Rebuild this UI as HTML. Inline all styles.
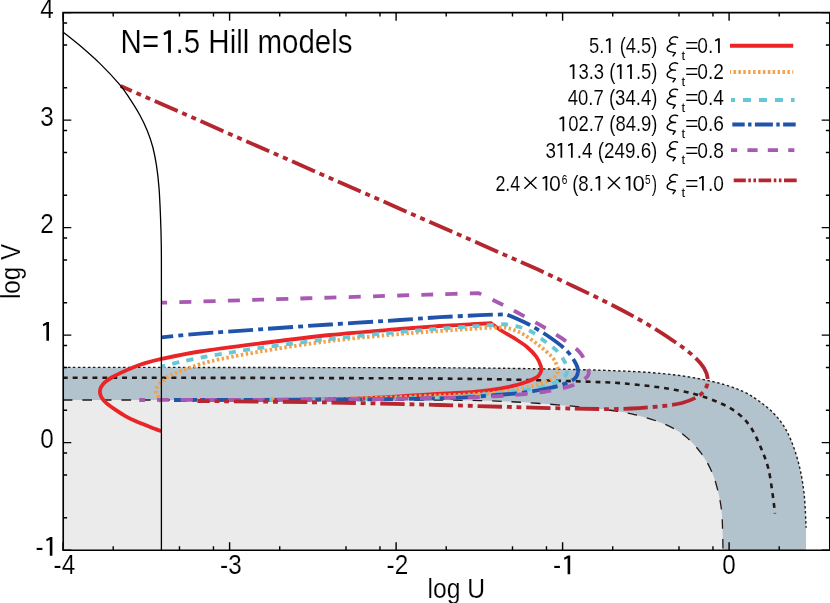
<!DOCTYPE html>
<html><head><meta charset="utf-8"><title>N=1.5 Hill models</title>
<style>html,body{margin:0;padding:0;background:#fff;width:830px;height:603px;overflow:hidden}body{position:relative;font-family:"Liberation Sans",sans-serif}</style></head>
<body>
<svg width="830" height="603" viewBox="0 0 830 603" style="position:absolute;left:0;top:0;font-family:'Liberation Sans',sans-serif;will-change:transform;transform:translateZ(0)">
<rect width="830" height="603" fill="#fff"/>
<path d="M63.00 367.40 C79.33 367.40 121.50 367.37 161.00 367.40 C200.50 367.43 253.50 367.53 300.00 367.60 C346.50 367.67 403.33 367.65 440.00 367.80 C476.67 367.95 493.33 368.10 520.00 368.50 C546.67 368.90 576.17 369.35 600.00 370.20 C623.83 371.05 644.67 371.80 663.00 373.60 C681.33 375.40 696.77 378.07 710.00 381.00 C723.23 383.93 733.23 387.10 742.40 391.20 C751.57 395.30 758.63 400.57 765.00 405.60 C771.37 410.63 776.27 415.62 780.60 421.40 C784.93 427.18 787.88 432.87 791.00 440.30 C794.12 447.73 797.10 456.93 799.30 466.00 C801.50 475.07 803.07 484.40 804.20 494.70 C805.33 505.00 805.78 522.28 806.10 527.80 L806 550.25 L63 550.25 Z" fill="#b3c3ce"/>
<path d="M63.00 400.00 C79.33 400.00 121.50 400.00 161.00 400.00 C200.50 400.00 260.17 400.00 300.00 400.00 C339.83 400.00 370.00 399.90 400.00 400.00 C430.00 400.10 456.67 400.02 480.00 400.60 C503.33 401.18 520.00 402.10 540.00 403.50 C560.00 404.90 584.75 407.27 600.00 409.00 C615.25 410.73 621.00 411.50 631.50 413.90 C642.00 416.30 654.08 419.72 663.00 423.40 C671.92 427.08 678.58 430.95 685.00 436.00 C691.42 441.05 696.95 447.53 701.50 453.70 C706.05 459.87 709.42 466.17 712.30 473.00 C715.18 479.83 717.18 487.53 718.80 494.70 C720.42 501.87 721.30 506.74 722.00 516.00 C722.70 525.26 722.83 544.54 723.00 550.25 L63 550.25 Z" fill="#ebebeb"/>
<path d="M63.00 367.40 C79.33 367.40 121.50 367.37 161.00 367.40 C200.50 367.43 253.50 367.53 300.00 367.60 C346.50 367.67 403.33 367.65 440.00 367.80 C476.67 367.95 493.33 368.10 520.00 368.50 C546.67 368.90 576.17 369.35 600.00 370.20 C623.83 371.05 644.67 371.80 663.00 373.60 C681.33 375.40 696.77 378.07 710.00 381.00 C723.23 383.93 733.23 387.10 742.40 391.20 C751.57 395.30 758.63 400.57 765.00 405.60 C771.37 410.63 776.27 415.62 780.60 421.40 C784.93 427.18 787.88 432.87 791.00 440.30 C794.12 447.73 797.10 456.93 799.30 466.00 C801.50 475.07 803.07 484.40 804.20 494.70 C805.33 505.00 805.78 522.28 806.10 527.80" fill="none" stroke="#231815" stroke-width="1.4" stroke-dasharray="2.5 2.5" stroke-dashoffset="0.00"/>
<path d="M63.00 377.80 C79.33 377.80 121.50 377.77 161.00 377.80 C200.50 377.83 253.50 377.87 300.00 378.00 C346.50 378.13 403.33 378.30 440.00 378.60 C476.67 378.90 493.33 379.22 520.00 379.80 C546.67 380.38 581.42 381.37 600.00 382.10 C618.58 382.83 621.00 383.23 631.50 384.20 C642.00 385.17 652.50 386.27 663.00 387.90 C673.50 389.53 685.05 391.50 694.50 394.00 C703.95 396.50 712.35 399.58 719.70 402.90 C727.05 406.22 733.35 409.72 738.60 413.90 C743.85 418.08 747.47 422.32 751.20 428.00 C754.93 433.68 758.13 441.20 761.00 448.00 C763.87 454.80 766.45 461.02 768.40 468.80 C770.35 476.58 771.60 487.25 772.70 494.70 C773.80 502.15 774.62 510.37 775.00 513.50" fill="none" stroke="#231815" stroke-width="2.6" stroke-dasharray="4.930 4.930" stroke-dashoffset="0.00"/>
<path d="M63.00 400.00 C79.33 400.00 121.50 400.00 161.00 400.00 C200.50 400.00 260.17 400.00 300.00 400.00 C339.83 400.00 370.00 399.90 400.00 400.00 C430.00 400.10 456.67 400.02 480.00 400.60 C503.33 401.18 520.00 402.10 540.00 403.50 C560.00 404.90 584.75 407.27 600.00 409.00 C615.25 410.73 621.00 411.50 631.50 413.90 C642.00 416.30 654.08 419.72 663.00 423.40 C671.92 427.08 678.58 430.95 685.00 436.00 C691.42 441.05 696.95 447.53 701.50 453.70 C706.05 459.87 709.42 466.17 712.30 473.00 C715.18 479.83 717.18 487.53 718.80 494.70 C720.42 501.87 721.30 506.74 722.00 516.00 C722.70 525.26 722.83 544.54 723.00 550.25" fill="none" stroke="#231815" stroke-width="1.3" stroke-dasharray="9.6 9.9" stroke-dashoffset="0.00"/>
<path d="M161.50 431.30 C160.37 430.88 157.48 429.88 154.70 428.80 C151.92 427.72 148.12 426.13 144.80 424.80 C141.48 423.47 138.12 422.30 134.80 420.80 C131.48 419.30 128.15 417.67 124.90 415.80 C121.65 413.93 117.88 411.32 115.30 409.60 C112.72 407.88 111.08 406.77 109.40 405.50 C107.72 404.23 106.39 403.17 105.20 402.00 C104.01 400.83 103.03 399.67 102.25 398.50 C101.47 397.33 100.89 396.17 100.50 395.00 C100.11 393.83 99.88 392.67 99.90 391.50 C99.92 390.33 100.15 389.17 100.64 388.00 C101.13 386.83 101.86 385.67 102.84 384.50 C103.82 383.33 105.02 382.17 106.50 381.00 C107.98 379.83 109.42 378.82 111.70 377.50 C113.98 376.18 116.77 374.73 120.20 373.10 C123.63 371.47 128.28 369.32 132.30 367.70 C136.32 366.08 139.43 364.87 144.30 363.40 C149.17 361.93 152.22 360.88 161.50 358.90 C170.78 356.92 183.58 354.08 200.00 351.50 C216.42 348.92 238.33 346.15 260.00 343.40 C281.67 340.65 306.67 337.40 330.00 335.00 C353.33 332.60 381.67 330.50 400.00 329.00 C418.33 327.50 428.33 326.78 440.00 326.00 C451.67 325.22 461.50 324.75 470.00 324.30 C478.50 323.85 487.50 323.47 491.00 323.30 C492.83 324.58 498.07 328.48 502.00 331.00 C505.93 333.52 510.43 335.73 514.60 338.40 C518.77 341.07 523.35 343.90 527.00 347.00 C530.65 350.10 534.20 353.83 536.50 357.00 C538.80 360.17 540.02 363.75 540.80 366.00 C541.58 368.25 541.42 369.08 541.20 370.50 C540.98 371.92 540.28 373.33 539.50 374.50 C538.72 375.67 538.70 376.25 536.50 377.50 C534.30 378.75 530.38 380.55 526.30 382.00 C522.22 383.45 517.82 384.87 512.00 386.20 C506.18 387.53 498.23 389.00 491.40 390.00 C484.57 391.00 481.23 391.48 471.00 392.20 C460.77 392.92 441.83 393.60 430.00 394.30 C418.17 395.00 410.00 395.78 400.00 396.40 C390.00 397.02 381.67 397.53 370.00 398.00 C358.33 398.47 348.33 398.90 330.00 399.20 C311.67 399.50 281.67 399.67 260.00 399.80 C238.33 399.93 210.00 399.97 200.00 400.00" fill="none" stroke="#eb2426" stroke-width="3.8"/>
<path d="M161.00 402.00 C160.62 401.22 159.48 398.77 158.70 397.30 C157.92 395.83 156.65 394.72 156.30 393.20 C155.95 391.68 156.13 389.72 156.60 388.20 C157.07 386.68 157.98 385.35 159.10 384.10 C160.22 382.85 161.98 381.82 163.30 380.70 C164.62 379.58 165.77 378.37 167.00 377.40 C168.23 376.43 169.38 375.58 170.70 374.90 C172.02 374.22 173.37 373.92 174.90 373.30 C176.43 372.68 178.25 371.83 179.90 371.20 C181.55 370.57 179.78 371.12 184.80 369.50 C189.82 367.88 197.47 364.48 210.00 361.50 C222.53 358.52 240.00 355.02 260.00 351.60 C280.00 348.18 306.67 343.93 330.00 341.00 C353.33 338.07 381.67 335.67 400.00 334.00 C418.33 332.33 428.33 331.83 440.00 331.00 C451.67 330.17 461.33 329.55 470.00 329.00 C478.67 328.45 486.17 327.95 492.00 327.70 C497.83 327.45 502.83 327.53 505.00 327.50 C506.50 327.92 510.73 328.75 514.00 330.00 C517.27 331.25 520.35 332.37 524.60 335.00 C528.85 337.63 534.93 342.13 539.50 345.80 C544.07 349.47 549.08 353.68 552.00 357.00 C554.92 360.32 556.03 363.37 557.00 365.70 C557.97 368.03 558.05 369.28 557.80 371.00 C557.55 372.72 557.35 374.23 555.50 376.00 C553.65 377.77 550.55 379.93 546.70 381.60 C542.85 383.27 538.18 384.53 532.40 386.00 C526.62 387.47 518.83 389.23 512.00 390.40 C505.17 391.57 500.07 392.27 491.40 393.00 C482.73 393.73 470.23 394.33 460.00 394.80 C449.77 395.27 443.33 395.30 430.00 395.80 C416.67 396.30 401.67 397.20 380.00 397.80 C358.33 398.40 325.00 399.03 300.00 399.40 C275.00 399.77 241.67 399.90 230.00 400.00" fill="none" stroke="#f1a24a" stroke-width="3.8" stroke-dasharray="2.45 2.45" stroke-dashoffset="0.00"/>
<path d="M161.50 366.60 C164.58 365.83 171.92 363.77 180.00 362.00 C188.08 360.23 196.67 358.33 210.00 356.00 C223.33 353.67 240.00 350.83 260.00 348.00 C280.00 345.17 306.67 341.67 330.00 339.00 C353.33 336.33 381.67 333.72 400.00 332.00 C418.33 330.28 426.67 329.73 440.00 328.70 C453.33 327.67 469.22 326.55 480.00 325.80 C490.78 325.05 500.58 324.47 504.70 324.20 C507.18 324.67 515.05 325.70 519.60 327.00 C524.15 328.30 527.87 329.67 532.00 332.00 C536.13 334.33 540.23 337.83 544.40 341.00 C548.57 344.17 553.47 347.28 557.00 351.00 C560.53 354.72 563.87 360.13 565.60 363.30 C567.33 366.47 567.58 367.72 567.40 370.00 C567.22 372.28 566.23 375.03 564.50 377.00 C562.77 378.97 561.08 380.08 557.00 381.80 C552.92 383.52 547.00 385.68 540.00 387.30 C533.00 388.92 524.00 390.35 515.00 391.50 C506.00 392.65 495.73 393.35 486.00 394.20 C476.27 395.05 467.60 396.00 456.60 396.60 C445.60 397.20 432.77 397.43 420.00 397.80 C407.23 398.17 400.00 398.48 380.00 398.80 C360.00 399.12 328.33 399.50 300.00 399.70 C271.67 399.90 225.00 399.95 210.00 400.00" fill="none" stroke="#66c8d5" stroke-width="3.8" stroke-dasharray="7 7.4" stroke-dashoffset="3.00"/>
<path d="M161.50 337.30 C167.92 336.70 183.58 335.03 200.00 333.70 C216.42 332.37 238.33 330.83 260.00 329.30 C281.67 327.77 306.67 326.05 330.00 324.50 C353.33 322.95 381.67 321.22 400.00 320.00 C418.33 318.78 426.67 318.00 440.00 317.20 C453.33 316.40 468.90 315.68 480.00 315.20 C491.10 314.72 502.17 314.45 506.60 314.30 C510.00 315.83 519.87 319.72 527.00 323.50 C534.13 327.28 542.77 332.45 549.40 337.00 C556.03 341.55 562.32 346.22 566.80 350.80 C571.28 355.38 574.43 360.97 576.30 364.50 C578.17 368.03 578.33 369.58 578.00 372.00" fill="none" stroke="#2054ab" stroke-width="3.8" stroke-dasharray="25.000 5.000 5.000 5.000" stroke-dashoffset="13.00"/>
<path d="M174.00 400.00 C195.00 399.97 265.67 399.93 300.00 399.80 C334.33 399.67 356.67 399.45 380.00 399.20 C403.33 398.95 425.83 398.62 440.00 398.30 C454.17 397.98 452.57 398.08 465.00 397.30 C477.43 396.52 502.18 394.82 514.60 393.60 C527.02 392.38 532.03 391.33 539.50 390.00 C546.97 388.67 553.60 387.43 559.40 385.60 C565.20 383.77 571.20 381.27 574.30 379.00 C577.40 376.73 577.67 374.42 578.00 372.00" fill="none" stroke="#2054ab" stroke-width="3.8" stroke-dasharray="25.793 5.159 5.159 5.159" stroke-dashoffset="12.90"/>
<path d="M161.50 302.70 C177.92 302.20 231.92 300.55 260.00 299.70 C288.08 298.85 306.67 298.30 330.00 297.60 C353.33 296.90 381.67 296.05 400.00 295.50 C418.33 294.95 426.92 294.70 440.00 294.30 C453.08 293.90 472.08 293.30 478.50 293.10 C481.58 294.58 490.98 299.02 497.00 302.00 C503.02 304.98 507.52 307.22 514.60 311.00 C521.68 314.78 531.60 320.13 539.50 324.70 C547.40 329.27 555.17 333.63 562.00 338.40 C568.83 343.17 576.05 347.70 580.50 353.30 C584.95 358.90 588.12 367.65 588.70 372.00" fill="none" stroke="#a85ab3" stroke-width="3.8" stroke-dasharray="12.000 12.200" stroke-dashoffset="6.30"/>
<path d="M139.20 400.00 C166.00 399.95 259.87 399.87 300.00 399.70 C340.13 399.53 356.67 399.28 380.00 399.00 C403.33 398.72 420.88 398.45 440.00 398.00 C459.12 397.55 477.30 397.33 494.70 396.30 C512.10 395.27 531.55 393.58 544.40 391.80 C557.25 390.02 565.20 387.67 571.80 385.60 C578.40 383.53 581.18 381.67 584.00 379.40 C586.82 377.13 589.28 376.35 588.70 372.00" fill="none" stroke="#a85ab3" stroke-width="3.8" stroke-dasharray="11.848 12.045" stroke-dashoffset="5.92"/>
<path d="M120.70 86.00 C259.80 147.17 398.90 208.33 538.00 269.50 C548.83 274.67 584.83 291.42 603.00 300.50 C621.17 309.58 634.37 316.65 647.00 324.00 C659.63 331.35 670.88 339.10 678.80 344.60 C686.72 350.10 690.30 353.10 694.50 357.00 C698.70 360.90 701.78 364.33 704.00 368.00 C706.22 371.67 707.55 375.55 707.80 379.00" fill="none" stroke="#b5262e" stroke-width="3.8" stroke-dasharray="25.000 5.000 5.000 5.000 5.000 5.000" stroke-dashoffset="12.80"/>
<path d="M197.40 401.00 C219.50 401.25 289.57 401.83 330.00 402.50 C370.43 403.17 405.00 404.12 440.00 405.00 C475.00 405.88 513.33 407.13 540.00 407.80 C566.67 408.47 584.75 408.88 600.00 409.00 C615.25 409.12 621.00 409.00 631.50 408.50 C642.00 408.00 654.58 406.92 663.00 406.00 C671.42 405.08 676.22 404.57 682.00 403.00 C687.78 401.43 693.78 398.98 697.70 396.60 C701.62 394.22 703.82 391.63 705.50 388.70 C707.18 385.77 708.05 382.45 707.80 379.00" fill="none" stroke="#b5262e" stroke-width="3.8" stroke-dasharray="24.342 4.868 4.868 4.868 4.868 4.868" stroke-dashoffset="11.98"/>
<path d="M63.00 31.90 C65.82 34.17 73.77 40.25 79.90 45.50 C86.03 50.75 93.17 56.87 99.80 63.40 C106.43 69.93 114.72 78.83 119.70 84.70 C124.68 90.57 126.35 93.55 129.70 98.60 C133.05 103.65 136.85 109.60 139.80 115.00 C142.75 120.40 145.22 125.58 147.40 131.00 C149.58 136.42 151.38 141.72 152.90 147.50 C154.42 153.28 155.48 159.02 156.50 165.70 C157.52 172.38 158.33 179.08 159.00 187.60 C159.67 196.12 160.12 207.07 160.50 216.80 C160.88 226.53 161.15 235.47 161.30 246.00 C161.45 256.53 161.38 274.33 161.40 280.00 L161.4 550.25" fill="none" stroke="#000" stroke-width="1.3"/>
<path d="M63.20 12.60 H829.80 V550.25 H63.20 Z" fill="none" stroke="#000" stroke-width="1.65"/>
<path d="M63.10 550.25 v-8.10 M63.10 12.60 v8.10 M113.22 550.25 v-3.90 M113.22 12.60 v3.90 M179.48 550.25 v-3.90 M179.48 12.60 v3.90 M213.46 550.25 v-3.90 M213.46 12.60 v3.90 M229.60 550.25 v-8.10 M229.60 12.60 v8.10 M279.72 550.25 v-3.90 M279.72 12.60 v3.90 M345.98 550.25 v-3.90 M345.98 12.60 v3.90 M379.96 550.25 v-3.90 M379.96 12.60 v3.90 M396.10 550.25 v-8.10 M396.10 12.60 v8.10 M446.22 550.25 v-3.90 M446.22 12.60 v3.90 M512.48 550.25 v-3.90 M512.48 12.60 v3.90 M546.46 550.25 v-3.90 M546.46 12.60 v3.90 M562.60 550.25 v-8.10 M562.60 12.60 v8.10 M612.72 550.25 v-3.90 M612.72 12.60 v3.90 M678.98 550.25 v-3.90 M678.98 12.60 v3.90 M712.96 550.25 v-3.90 M712.96 12.60 v3.90 M729.10 550.25 v-8.10 M729.10 12.60 v8.10 M779.22 550.25 v-3.90 M779.22 12.60 v3.90 M63.20 550.10 h8.10 M829.80 550.10 h-8.10 M63.20 517.74 h3.90 M829.80 517.74 h-3.90 M63.20 474.96 h3.90 M829.80 474.96 h-3.90 M63.20 453.02 h3.90 M829.80 453.02 h-3.90 M63.20 442.60 h8.10 M829.80 442.60 h-8.10 M63.20 410.24 h3.90 M829.80 410.24 h-3.90 M63.20 367.46 h3.90 M829.80 367.46 h-3.90 M63.20 345.52 h3.90 M829.80 345.52 h-3.90 M63.20 335.10 h8.10 M829.80 335.10 h-8.10 M63.20 302.74 h3.90 M829.80 302.74 h-3.90 M63.20 259.96 h3.90 M829.80 259.96 h-3.90 M63.20 238.02 h3.90 M829.80 238.02 h-3.90 M63.20 227.60 h8.10 M829.80 227.60 h-8.10 M63.20 195.24 h3.90 M829.80 195.24 h-3.90 M63.20 152.46 h3.90 M829.80 152.46 h-3.90 M63.20 130.52 h3.90 M829.80 130.52 h-3.90 M63.20 120.10 h8.10 M829.80 120.10 h-8.10 M63.20 87.74 h3.90 M829.80 87.74 h-3.90 M63.20 44.96 h3.90 M829.80 44.96 h-3.90 M63.20 23.02 h3.90 M829.80 23.02 h-3.90 M63.20 12.60 h8.10 M829.80 12.60 h-8.10" fill="none" stroke="#000" stroke-width="1.4"/>
<path d="M49.80 555.75 L52.40 555.75 L52.40 537.05 L50.20 537.05 L46.20 539.35 L46.70 541.25 L49.70 539.75 L49.80 539.75 Z" fill="#000"/>
<text x="35.60" y="555.85" font-size="27.0" text-anchor="start" textLength="8.09" lengthAdjust="spacingAndGlyphs" stroke="#fff" stroke-width="0.15" paint-order="fill stroke">-</text>
<text x="53.80" y="448.35" font-size="27.0" text-anchor="end" textLength="13.51" lengthAdjust="spacingAndGlyphs" stroke="#fff" stroke-width="0.15" paint-order="fill stroke">0</text>
<path d="M46.40 340.65 L49.00 340.65 L49.00 321.95 L46.80 321.95 L42.80 324.25 L43.30 326.15 L46.30 324.65 L46.40 324.65 Z" fill="#000"/>
<text x="53.80" y="233.35" font-size="27.0" text-anchor="end" textLength="13.51" lengthAdjust="spacingAndGlyphs" stroke="#fff" stroke-width="0.15" paint-order="fill stroke">2</text>
<text x="53.80" y="125.85" font-size="27.0" text-anchor="end" textLength="13.51" lengthAdjust="spacingAndGlyphs" stroke="#fff" stroke-width="0.15" paint-order="fill stroke">3</text>
<text x="53.80" y="18.35" font-size="27.0" text-anchor="end" textLength="13.51" lengthAdjust="spacingAndGlyphs" stroke="#fff" stroke-width="0.15" paint-order="fill stroke">4</text>
<text x="64.40" y="573.90" font-size="27.0" text-anchor="middle" textLength="21.61" lengthAdjust="spacingAndGlyphs" stroke="#fff" stroke-width="0.15" paint-order="fill stroke">-4</text>
<text x="230.90" y="573.90" font-size="27.0" text-anchor="middle" textLength="21.61" lengthAdjust="spacingAndGlyphs" stroke="#fff" stroke-width="0.15" paint-order="fill stroke">-3</text>
<text x="397.40" y="573.90" font-size="27.0" text-anchor="middle" textLength="21.61" lengthAdjust="spacingAndGlyphs" stroke="#fff" stroke-width="0.15" paint-order="fill stroke">-2</text>
<path d="M567.60 574.20 L570.20 574.20 L570.20 555.50 L568.00 555.50 L564.00 557.80 L564.50 559.70 L567.50 558.20 L567.60 558.20 Z" fill="#000"/>
<text x="553.00" y="573.90" font-size="27.0" text-anchor="start" textLength="8.09" lengthAdjust="spacingAndGlyphs" stroke="#fff" stroke-width="0.15" paint-order="fill stroke">-</text>
<text x="729.10" y="573.90" font-size="27.0" text-anchor="middle" textLength="13.51" lengthAdjust="spacingAndGlyphs" stroke="#fff" stroke-width="0.15" paint-order="fill stroke">0</text>
<text x="427.6" y="597.5" font-size="27.8" textLength="57.6" lengthAdjust="spacingAndGlyphs" stroke="#fff" stroke-width="0.15" paint-order="fill stroke">log U</text>
<text transform="translate(19.8,299.1) rotate(-90)" font-size="27.8" textLength="55.3" lengthAdjust="spacingAndGlyphs" stroke="#fff" stroke-width="0.15" paint-order="fill stroke">log V</text>
<text x="120.6" y="52.7" textLength="38.53" font-size="32.8" lengthAdjust="spacingAndGlyphs" stroke="#fff" stroke-width="0.2" paint-order="fill stroke">N=</text>
<path d="M168.10 52.70 L170.90 52.70 L170.90 30.30 L168.26 30.30 L163.47 33.06 L164.07 35.33 L168.00 33.53 L168.10 33.53 Z" fill="#000"/>
<text x="175.54" y="52.7" textLength="177.06" font-size="32.8" lengthAdjust="spacingAndGlyphs" stroke="#fff" stroke-width="0.2" paint-order="fill stroke">.5 Hill models</text>
<text x="589.10" y="52.90" textLength="15.30" font-size="21.20" lengthAdjust="spacingAndGlyphs" stroke="#fff" stroke-width="0.08" paint-order="fill stroke">5.</text>
<path d="M608.83 52.90 L610.59 52.90 L610.59 38.19 L608.86 38.19 L605.72 40.00 L606.11 41.49 L608.73 40.31 L608.83 40.31 Z" fill="#000"/>
<text x="619.69" y="52.90" textLength="37.71" font-size="21.20" lengthAdjust="spacingAndGlyphs" stroke="#fff" stroke-width="0.08" paint-order="fill stroke">(4.5)</text>
<path d="M677.50 37.45 C677.25 37.38 676.55 37.10 676.00 37.00 C675.45 36.90 674.80 36.79 674.20 36.85 C673.60 36.91 672.97 37.05 672.40 37.35 C671.83 37.65 671.20 38.13 670.75 38.65 C670.30 39.17 669.87 39.88 669.70 40.45 C669.53 41.02 669.53 41.56 669.75 42.05 C669.97 42.54 670.46 43.08 671.00 43.40 C671.54 43.73 672.25 43.88 673.00 44.00 C673.75 44.12 675.08 44.13 675.50 44.15 M673.00 44.05 C672.67 44.15 671.67 44.34 671.00 44.65 C670.33 44.96 669.58 45.43 669.00 45.90 C668.42 46.37 667.85 46.93 667.55 47.45 C667.25 47.98 667.16 48.55 667.20 49.05 C667.24 49.55 667.43 50.06 667.80 50.45 C668.17 50.84 668.67 51.13 669.40 51.40 C670.13 51.68 671.23 51.87 672.20 52.10 C673.17 52.33 674.70 52.68 675.20 52.80 M675.3 52.85 L673.1 55.95" fill="none" stroke="#000" stroke-width="1.45" stroke-linecap="round" stroke-linejoin="round"/>
<text x="681.4" y="59.6" font-size="12.4" textLength="3.7" lengthAdjust="spacingAndGlyphs">t</text>
<text x="684.90" y="52.90" textLength="13.60" font-size="21.20" lengthAdjust="spacingAndGlyphs" stroke="#fff" stroke-width="0.08" paint-order="fill stroke">=</text>
<text x="697.30" y="52.90" textLength="16.02" font-size="21.20" lengthAdjust="spacingAndGlyphs" stroke="#fff" stroke-width="0.08" paint-order="fill stroke">0.</text>
<path d="M718.05 52.90 L719.81 52.90 L719.81 38.19 L718.08 38.19 L714.93 40.00 L715.33 41.49 L717.95 40.31 L718.05 40.31 Z" fill="#000"/>
<path d="M730.00 45.70 H793.20" fill="none" stroke="#eb2426" stroke-width="3.9"/>
<path d="M572.67 78.90 L574.43 78.90 L574.43 64.19 L572.70 64.19 L569.56 66.00 L569.95 67.49 L572.57 66.31 L572.67 66.31 Z" fill="#000"/>
<text x="578.46" y="78.90" textLength="36.90" font-size="21.20" lengthAdjust="spacingAndGlyphs" stroke="#fff" stroke-width="0.08" paint-order="fill stroke">3.3 (</text>
<path d="M619.84 78.90 L621.60 78.90 L621.60 64.19 L619.87 64.19 L616.72 66.00 L617.11 67.49 L619.74 66.31 L619.84 66.31 Z" fill="#000"/>
<path d="M630.09 78.90 L631.85 78.90 L631.85 64.19 L630.12 64.19 L626.98 66.00 L627.37 67.49 L629.99 66.31 L630.09 66.31 Z" fill="#000"/>
<text x="635.88" y="78.90" textLength="21.52" font-size="21.20" lengthAdjust="spacingAndGlyphs" stroke="#fff" stroke-width="0.08" paint-order="fill stroke">.5)</text>
<path d="M677.50 63.45 C677.25 63.38 676.55 63.10 676.00 63.00 C675.45 62.90 674.80 62.79 674.20 62.85 C673.60 62.91 672.97 63.05 672.40 63.35 C671.83 63.65 671.20 64.13 670.75 64.65 C670.30 65.17 669.87 65.88 669.70 66.45 C669.53 67.02 669.53 67.56 669.75 68.05 C669.97 68.54 670.46 69.08 671.00 69.40 C671.54 69.73 672.25 69.88 673.00 70.00 C673.75 70.12 675.08 70.12 675.50 70.15 M673.00 70.05 C672.67 70.15 671.67 70.34 671.00 70.65 C670.33 70.96 669.58 71.43 669.00 71.90 C668.42 72.37 667.85 72.92 667.55 73.45 C667.25 73.98 667.16 74.55 667.20 75.05 C667.24 75.55 667.43 76.06 667.80 76.45 C668.17 76.84 668.67 77.12 669.40 77.40 C670.13 77.68 671.23 77.87 672.20 78.10 C673.17 78.33 674.70 78.68 675.20 78.80 M675.3 78.85 L673.1 81.95" fill="none" stroke="#000" stroke-width="1.45" stroke-linecap="round" stroke-linejoin="round"/>
<text x="681.4" y="85.6" font-size="12.4" textLength="3.7" lengthAdjust="spacingAndGlyphs">t</text>
<text x="684.90" y="78.90" textLength="13.60" font-size="21.20" lengthAdjust="spacingAndGlyphs" stroke="#fff" stroke-width="0.08" paint-order="fill stroke">=</text>
<text x="697.30" y="78.90" textLength="26.70" font-size="21.20" lengthAdjust="spacingAndGlyphs" stroke="#fff" stroke-width="0.08" paint-order="fill stroke">0.2</text>
<path d="M730.00 72.00 H793.20" fill="none" stroke="#f1a24a" stroke-width="3.9" stroke-dasharray="2.45 2.45" stroke-dashoffset="1.40"/>
<text x="567.70" y="105.20" textLength="89.70" font-size="21.20" lengthAdjust="spacingAndGlyphs" stroke="#fff" stroke-width="0.08" paint-order="fill stroke">40.7 (34.4)</text>
<path d="M677.50 89.75 C677.25 89.67 676.55 89.40 676.00 89.30 C675.45 89.20 674.80 89.09 674.20 89.15 C673.60 89.21 672.97 89.35 672.40 89.65 C671.83 89.95 671.20 90.43 670.75 90.95 C670.30 91.47 669.87 92.18 669.70 92.75 C669.53 93.32 669.53 93.86 669.75 94.35 C669.97 94.84 670.46 95.38 671.00 95.70 C671.54 96.03 672.25 96.18 673.00 96.30 C673.75 96.43 675.08 96.43 675.50 96.45 M673.00 96.35 C672.67 96.45 671.67 96.64 671.00 96.95 C670.33 97.26 669.58 97.73 669.00 98.20 C668.42 98.67 667.85 99.22 667.55 99.75 C667.25 100.28 667.16 100.85 667.20 101.35 C667.24 101.85 667.43 102.36 667.80 102.75 C668.17 103.14 668.67 103.43 669.40 103.70 C670.13 103.98 671.23 104.17 672.20 104.40 C673.17 104.63 674.70 104.98 675.20 105.10 M675.3 105.15 L673.1 108.25" fill="none" stroke="#000" stroke-width="1.45" stroke-linecap="round" stroke-linejoin="round"/>
<text x="681.4" y="111.9" font-size="12.4" textLength="3.7" lengthAdjust="spacingAndGlyphs">t</text>
<text x="684.90" y="105.20" textLength="13.60" font-size="21.20" lengthAdjust="spacingAndGlyphs" stroke="#fff" stroke-width="0.08" paint-order="fill stroke">=</text>
<text x="697.30" y="105.20" textLength="26.70" font-size="21.20" lengthAdjust="spacingAndGlyphs" stroke="#fff" stroke-width="0.08" paint-order="fill stroke">0.4</text>
<path d="M731.00 100.00 H794.60" fill="none" stroke="#66c8d5" stroke-width="3.9" stroke-dasharray="8 8" stroke-dashoffset="4.00"/>
<path d="M562.47 131.20 L564.23 131.20 L564.23 116.49 L562.50 116.49 L559.35 118.30 L559.75 119.79 L562.37 118.61 L562.47 118.61 Z" fill="#000"/>
<text x="568.25" y="131.20" textLength="89.15" font-size="21.20" lengthAdjust="spacingAndGlyphs" stroke="#fff" stroke-width="0.08" paint-order="fill stroke">02.7 (84.9)</text>
<path d="M677.50 115.75 C677.25 115.67 676.55 115.40 676.00 115.30 C675.45 115.20 674.80 115.09 674.20 115.15 C673.60 115.21 672.97 115.35 672.40 115.65 C671.83 115.95 671.20 116.43 670.75 116.95 C670.30 117.47 669.87 118.18 669.70 118.75 C669.53 119.32 669.53 119.86 669.75 120.35 C669.97 120.84 670.46 121.37 671.00 121.70 C671.54 122.02 672.25 122.17 673.00 122.30 C673.75 122.42 675.08 122.42 675.50 122.45 M673.00 122.35 C672.67 122.45 671.67 122.64 671.00 122.95 C670.33 123.26 669.58 123.73 669.00 124.20 C668.42 124.67 667.85 125.22 667.55 125.75 C667.25 126.27 667.16 126.85 667.20 127.35 C667.24 127.85 667.43 128.36 667.80 128.75 C668.17 129.14 668.67 129.42 669.40 129.70 C670.13 129.97 671.23 130.17 672.20 130.40 C673.17 130.63 674.70 130.98 675.20 131.10 M675.3 131.15 L673.1 134.25" fill="none" stroke="#000" stroke-width="1.45" stroke-linecap="round" stroke-linejoin="round"/>
<text x="681.4" y="137.9" font-size="12.4" textLength="3.7" lengthAdjust="spacingAndGlyphs">t</text>
<text x="684.90" y="131.20" textLength="13.60" font-size="21.20" lengthAdjust="spacingAndGlyphs" stroke="#fff" stroke-width="0.08" paint-order="fill stroke">=</text>
<text x="697.30" y="131.20" textLength="26.70" font-size="21.20" lengthAdjust="spacingAndGlyphs" stroke="#fff" stroke-width="0.08" paint-order="fill stroke">0.6</text>
<path d="M732.30 124.50 H795.70" fill="none" stroke="#2054ab" stroke-width="3.9" stroke-dasharray="18 3.4 3.4 3.4" stroke-dashoffset="5.60"/>
<text x="545.40" y="157.70" textLength="10.47" font-size="21.20" lengthAdjust="spacingAndGlyphs" stroke="#fff" stroke-width="0.08" paint-order="fill stroke">3</text>
<path d="M560.48 157.70 L562.23 157.70 L562.23 142.99 L560.50 142.99 L557.36 144.80 L557.75 146.29 L560.38 145.11 L560.48 145.11 Z" fill="#000"/>
<path d="M570.95 157.70 L572.71 157.70 L572.71 142.99 L570.97 142.99 L567.83 144.80 L568.22 146.29 L570.85 145.11 L570.95 145.11 Z" fill="#000"/>
<text x="576.81" y="157.70" textLength="80.59" font-size="21.20" lengthAdjust="spacingAndGlyphs" stroke="#fff" stroke-width="0.08" paint-order="fill stroke">.4 (249.6)</text>
<path d="M677.50 142.25 C677.25 142.18 676.55 141.90 676.00 141.80 C675.45 141.70 674.80 141.59 674.20 141.65 C673.60 141.71 672.97 141.85 672.40 142.15 C671.83 142.45 671.20 142.93 670.75 143.45 C670.30 143.97 669.87 144.68 669.70 145.25 C669.53 145.82 669.53 146.36 669.75 146.85 C669.97 147.34 670.46 147.88 671.00 148.20 C671.54 148.52 672.25 148.67 673.00 148.80 C673.75 148.92 675.08 148.92 675.50 148.95 M673.00 148.85 C672.67 148.95 671.67 149.14 671.00 149.45 C670.33 149.76 669.58 150.23 669.00 150.70 C668.42 151.17 667.85 151.72 667.55 152.25 C667.25 152.78 667.16 153.35 667.20 153.85 C667.24 154.35 667.43 154.86 667.80 155.25 C668.17 155.64 668.67 155.92 669.40 156.20 C670.13 156.47 671.23 156.67 672.20 156.90 C673.17 157.13 674.70 157.48 675.20 157.60 M675.3 157.65 L673.1 160.75" fill="none" stroke="#000" stroke-width="1.45" stroke-linecap="round" stroke-linejoin="round"/>
<text x="681.4" y="164.4" font-size="12.4" textLength="3.7" lengthAdjust="spacingAndGlyphs">t</text>
<text x="684.90" y="157.70" textLength="13.60" font-size="21.20" lengthAdjust="spacingAndGlyphs" stroke="#fff" stroke-width="0.08" paint-order="fill stroke">=</text>
<text x="697.30" y="157.70" textLength="26.70" font-size="21.20" lengthAdjust="spacingAndGlyphs" stroke="#fff" stroke-width="0.08" paint-order="fill stroke">0.8</text>
<path d="M731.00 150.10 H794.40" fill="none" stroke="#a85ab3" stroke-width="3.9" stroke-dasharray="10.2 10.2" stroke-dashoffset="4.00"/>
<text x="495.40" y="190.60" textLength="24.90" font-size="21.20" lengthAdjust="spacingAndGlyphs" stroke="#fff" stroke-width="0.08" paint-order="fill stroke">2.4</text>
<path d="M545.49 190.60 L547.25 190.60 L547.25 175.89 L545.52 175.89 L542.37 177.70 L542.77 179.19 L545.39 178.01 L545.49 178.01 Z" fill="#000"/>
<text x="548.90" y="190.60" textLength="11.83" font-size="21.20" lengthAdjust="spacingAndGlyphs" stroke="#fff" stroke-width="0.08" paint-order="fill stroke">0</text>
<text x="561.8" y="183.9" font-size="12" textLength="5.6" lengthAdjust="spacingAndGlyphs">6</text>
<text x="572.16" y="190.60" textLength="21.74" font-size="21.20" lengthAdjust="spacingAndGlyphs" stroke="#fff" stroke-width="0.08" paint-order="fill stroke">(8.</text>
<path d="M598.44 190.60 L600.20 190.60 L600.20 175.89 L598.47 175.89 L595.32 177.70 L595.71 179.19 L598.34 178.01 L598.44 178.01 Z" fill="#000"/>
<path d="M628.64 190.60 L630.40 190.60 L630.40 175.89 L628.67 175.89 L625.52 177.70 L625.92 179.19 L628.54 178.01 L628.64 178.01 Z" fill="#000"/>
<text x="632.40" y="190.60" textLength="12.40" font-size="21.20" lengthAdjust="spacingAndGlyphs" stroke="#fff" stroke-width="0.08" paint-order="fill stroke">0</text>
<text x="645.1" y="183.9" font-size="12" textLength="5.6" lengthAdjust="spacingAndGlyphs">5</text>
<text x="651.80" y="190.60" textLength="5.30" font-size="21.20" lengthAdjust="spacingAndGlyphs" stroke="#fff" stroke-width="0.08" paint-order="fill stroke">)</text>
<path d="M524.40 177.05 l12.1 11.7 m0 -11.7 l-12.1 11.7" stroke="#000" stroke-width="1.35" fill="none"/>
<path d="M607.90 177.05 l12.1 11.7 m0 -11.7 l-12.1 11.7" stroke="#000" stroke-width="1.35" fill="none"/>
<path d="M677.50 175.15 C677.25 175.07 676.55 174.80 676.00 174.70 C675.45 174.60 674.80 174.49 674.20 174.55 C673.60 174.61 672.97 174.75 672.40 175.05 C671.83 175.35 671.20 175.83 670.75 176.35 C670.30 176.87 669.87 177.58 669.70 178.15 C669.53 178.72 669.53 179.26 669.75 179.75 C669.97 180.24 670.46 180.77 671.00 181.10 C671.54 181.42 672.25 181.57 673.00 181.70 C673.75 181.82 675.08 181.82 675.50 181.85 M673.00 181.75 C672.67 181.85 671.67 182.04 671.00 182.35 C670.33 182.66 669.58 183.13 669.00 183.60 C668.42 184.07 667.85 184.62 667.55 185.15 C667.25 185.67 667.16 186.25 667.20 186.75 C667.24 187.25 667.43 187.76 667.80 188.15 C668.17 188.54 668.67 188.82 669.40 189.10 C670.13 189.37 671.23 189.57 672.20 189.80 C673.17 190.03 674.70 190.38 675.20 190.50 M675.3 190.55 L673.1 193.65" fill="none" stroke="#000" stroke-width="1.45" stroke-linecap="round" stroke-linejoin="round"/>
<text x="681.4" y="197.3" font-size="12.4" textLength="3.7" lengthAdjust="spacingAndGlyphs">t</text>
<text x="684.90" y="190.60" textLength="13.60" font-size="21.20" lengthAdjust="spacingAndGlyphs" stroke="#fff" stroke-width="0.08" paint-order="fill stroke">=</text>
<path d="M702.03 190.60 L703.79 190.60 L703.79 175.89 L702.06 175.89 L698.91 177.70 L699.31 179.19 L701.93 178.01 L702.03 178.01 Z" fill="#000"/>
<text x="707.98" y="190.60" textLength="16.02" font-size="21.20" lengthAdjust="spacingAndGlyphs" stroke="#fff" stroke-width="0.08" paint-order="fill stroke">.0</text>
<path d="M733.70 180.40 H797.10" fill="none" stroke="#b5262e" stroke-width="3.9" stroke-dasharray="12.7 2.55 2.55 2.55 2.55 2.55" stroke-dashoffset="0.60"/>
</svg>
</body></html>
